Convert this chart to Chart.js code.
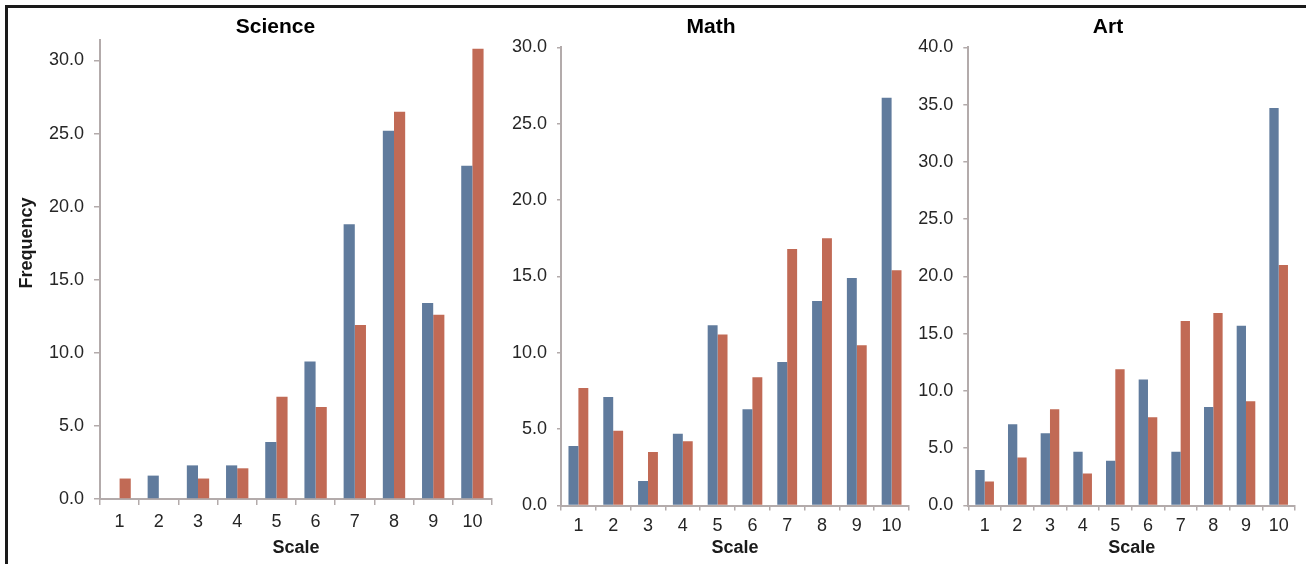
<!DOCTYPE html>
<html lang="en">
<head>
  <meta charset="UTF-8">
  <title>Science / Math / Art</title>
  <script src="https://cdn.jsdelivr.net/npm/chart.js"></script>
  <style>
    body {
      margin: 0;
      width: 1306px;
      height: 564px;
      background: #ffffff;
      position: relative;
      overflow: hidden;
      font-family: "Liberation Sans", Arial, sans-serif;
    }
    .frame {
      position: absolute;
      left: 5px;
      top: 5px;
      width: 1320px;
      height: 600px;
      border-left: 3px solid #1a1a1a;
      border-top: 3px solid #1a1a1a;
    }
    canvas {
      position: absolute;
      top: 0;
    }
    #science { left: 0; }
    #math { left: 500px; }
    #art { left: 915px; }
  </style>
</head>
<body>
  <div class="frame"></div>
  <canvas id="science" width="500" height="564"></canvas>
  <canvas id="math" width="415" height="564"></canvas>
  <canvas id="art" width="391" height="564"></canvas>

  <script>
    // data
    const scaleLabels = ["1", "2", "3", "4", "5", "6", "7", "8", "9", "10"];
    const scienceBlue = [0, 1.6, 2.3, 2.3, 3.9, 9.4, 18.8, 25.2, 13.4, 22.8];
    const scienceRed  = [1.4, 0, 1.4, 2.1, 7.0, 6.3, 11.9, 26.5, 12.6, 30.8];
    const mathBlue = [3.9, 7.1, 1.6, 4.7, 11.8, 6.3, 9.4, 13.4, 14.9, 26.7];
    const mathRed  = [7.7, 4.9, 3.5, 4.2, 11.2, 8.4, 16.8, 17.5, 10.5, 15.4];
    const artBlue = [3.1, 7.1, 6.3, 4.7, 3.9, 11.0, 4.7, 8.6, 15.7, 34.7];
    const artRed  = [2.1, 4.2, 8.4, 2.8, 11.9, 7.7, 16.1, 16.8, 9.1, 21.0];
    const yMaxes = [31.4, 30, 40];

    const BLUE = "#607b9d";
    const RED = "#c16a55";
    const AXIS = "#b3abab";
    const FONT = "'Liberation Sans', Arial, sans-serif";

    // panel title and the rotated "Frequency" label, placed freely
    const freeText = {
      id: "freeText",
      afterDraw(chart, args, opts) {
        const ctx = chart.ctx;
        (opts.items || []).forEach(t => {
          ctx.save();
          ctx.translate(t.x, t.y);
          if (t.rotate) ctx.rotate(t.rotate);
          ctx.font = "bold " + t.size + "px " + FONT;
          ctx.fillStyle = t.color;
          ctx.textAlign = "center";
          ctx.textBaseline = "middle";
          ctx.fillText(t.text, 0, 0);
          ctx.restore();
        });
      }
    };

    function panel(id, title, blue, red, yMax, lay) {
      const items = [{ text: title, x: lay.titleX, y: 27, size: 21, color: "#000" }];
      if (lay.yTitle) {
        items.push({ text: lay.yTitle, x: 27, y: 243, size: 18, color: "#1a1a1a", rotate: -Math.PI / 2 });
      }
      return new Chart(document.getElementById(id), {
        type: "bar",
        data: {
          labels: scaleLabels,
          datasets: [
            { label: "Series 1", data: blue, backgroundColor: BLUE },
            { label: "Series 2", data: red, backgroundColor: RED }
          ]
        },
        options: {
          responsive: false,
          animation: false,
          devicePixelRatio: 1,
          categoryPercentage: 0.57,
          barPercentage: 1.0,
          layout: { padding: { left: lay.left, right: lay.right, top: lay.top, bottom: 0 } },
          plugins: {
            legend: { display: false },
            tooltip: { enabled: false },
            title: { display: false },
            freeText: { items: items }
          },
          scales: {
            x: {
              grid: {
                display: true,
                offset: true,
                drawOnChartArea: false,
                drawTicks: true,
                tickLength: lay.xTick,
                color: AXIS,
                lineWidth: 1.5
              },
              border: { display: true, color: AXIS, width: 2 },
              ticks: {
                color: "#262626",
                padding: lay.xPad,
                maxRotation: 0,
                font: { family: FONT, size: 18 }
              },
              title: {
                display: true,
                text: "Scale",
                color: "#1a1a1a",
                font: { family: FONT, size: 18, weight: "bold", lineHeight: 1.2 },
                padding: { top: 2, bottom: 5 }
              },
              afterFit(s) { s.height = lay.xHeight; }
            },
            y: {
              min: 0,
              max: yMax,
              grid: {
                display: true,
                drawOnChartArea: false,
                drawTicks: true,
                tickLength: lay.yTick,
                color: AXIS,
                lineWidth: 1.5
              },
              border: { display: true, color: AXIS, width: 2 },
              ticks: {
                stepSize: 5,
                includeBounds: false,
                color: "#262626",
                padding: lay.yPad,
                font: { family: FONT, size: 18 },
                callback: v => Number(v).toFixed(1)
              },
              afterFit(s) { s.width = lay.yWidth; }
            }
          }
        },
        plugins: [freeText]
      });
    }

    panel("science", "Science", scienceBlue, scienceRed, yMaxes[0],
      { left: 20, right: 8, top: 40, yWidth: 80, titleX: 275.5, yTitle: "Frequency",
        xHeight: 65, xTick: 6, xPad: 6, yTick: 6, yPad: 10 });
    panel("math", "Math", mathBlue, mathRed, yMaxes[1],
      { left: 2, right: 6, top: 47.4, yWidth: 59, titleX: 211,
        xHeight: 58.5, xTick: 5, xPad: 5, yTick: 4, yPad: 10 });
    panel("art", "Art", artBlue, artRed, yMaxes[2],
      { left: 0, right: 11, top: 47.4, yWidth: 53.3, titleX: 193,
        xHeight: 58.5, xTick: 5, xPad: 5, yTick: 5, yPad: 10 });
  </script>
</body>
</html>
